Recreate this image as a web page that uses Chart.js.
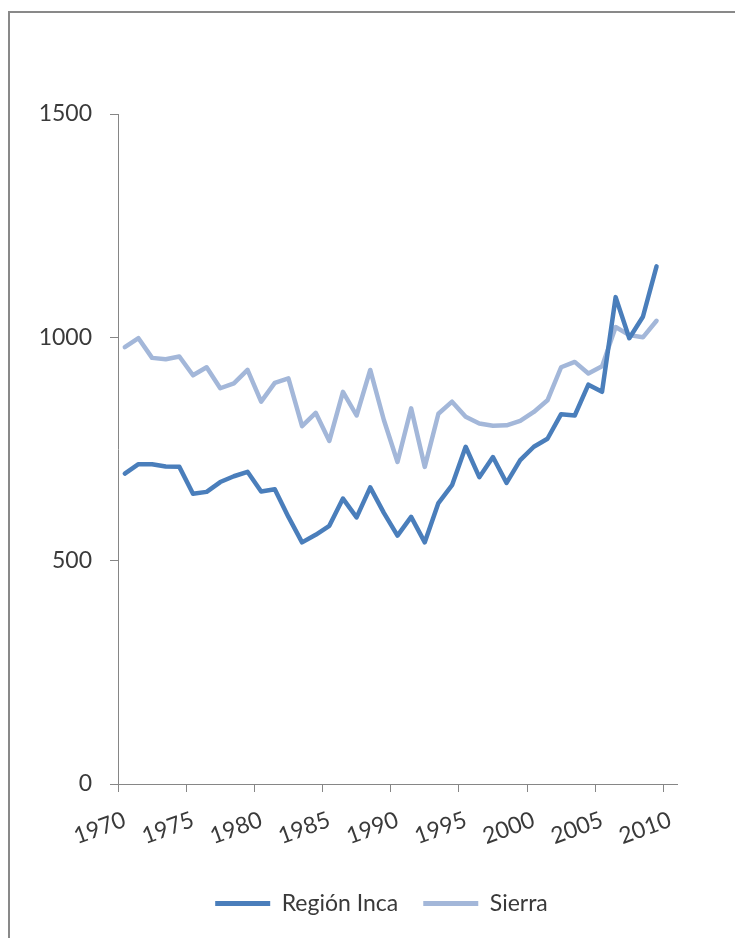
<!DOCTYPE html>
<html>
<head>
<meta charset="utf-8">
<script src="https://cdn.jsdelivr.net/npm/chart.js@4"></script>
<style>
  html, body { margin: 0; padding: 0; background: #fff; overflow: hidden; }
  #frame { position: absolute; left: 8px; top: 11px; width: 900px; height: 1100px; border: 2px solid #898989; }
  #chart { position: absolute; left: 0; top: 0; }
</style>
</head>
<body>
<div id="frame"></div>
<canvas id="chart" width="735" height="938"></canvas>
<script>
// years on the category axis (2010 has no value)
const years = [];
for (let y = 1970; y <= 2010; y++) years.push(y);

const regionInca = [695, 716, 716, 711, 710, 650, 654, 676, 689, 699,
                    655, 660, 598, 541, 558, 578, 639, 597, 664, 607,
                    556, 598, 541, 629, 669, 755, 687, 732, 674, 725,
                    755, 773, 828, 825, 894, 878, 1090, 998, 1046, 1159];
const sierra = [978, 998, 954, 951, 957, 915, 933, 886, 897, 927,
                856, 898, 908, 801, 831, 768, 878, 825, 927, 815,
                721, 841, 710, 829, 856, 822, 807, 802, 803, 813,
                833, 859, 933, 945, 919, 935, 1023, 1005, 1000, 1037];
const yTicks = [0, 500, 1000, 1500];

const axisGray = "#868686";
const textColor = "#3a3a3a";
const font = { family: "Lato", size: 23 };

// the legend sits a bit right of the canvas centre in the original
const legendShift = {
    id: "legendShift",
    afterLayout(chart) {
        chart.legend.left += 43;
        chart.legend.right += 43;
    }
};

const ctx = document.getElementById("chart");
new Chart(ctx, {
    type: "line",
    data: {
        labels: years,
        datasets: [{
            label: "Región Inca",
            data: regionInca,
            borderColor: "#4a7ebb",
            backgroundColor: "#4a7ebb",
            borderWidth: 4.5
        }, {
            label: "Sierra",
            data: sierra,
            borderColor: "#a3b7d9",
            backgroundColor: "#a3b7d9",
            borderWidth: 4.5
        }]
    },
    plugins: [legendShift],
    options: {
        responsive: false,
        animation: false,
        elements: {
            line: { tension: 0, borderJoinStyle: "round", borderCapStyle: "round" },
            point: { radius: 0 }
        },
        layout: { autoPadding: false, padding: { top: 114, right: 58, left: 0, bottom: 13 } },
        plugins: {
            tooltip: { enabled: false },
            legend: {
                position: "bottom",
                labels: {
                    color: textColor,
                    font: font,
                    boxWidth: 55,
                    boxHeight: 5,
                    padding: 25,
                    generateLabels: (chart) => chart.data.datasets.map((d, i) => ({
                        text: d.label,
                        fillStyle: d.borderColor,
                        strokeStyle: d.borderColor,
                        lineWidth: 0,
                        fontColor: textColor,
                        datasetIndex: i
                    }))
                }
            }
        },
        scales: {
            x: {
                type: "category",
                offset: true,
                grid: {
                    offset: true,
                    drawOnChartArea: false,
                    drawTicks: true,
                    tickLength: 8,
                    tickColor: (c) => (c.index % 5 === 0 ? axisGray : "rgba(0,0,0,0)")
                },
                border: { color: axisGray, width: 1 },
                ticks: {
                    autoSkip: false,
                    minRotation: 20,
                    maxRotation: 20,
                    padding: 14,
                    color: textColor,
                    font: font,
                    callback: (v, i) => (years[i] % 5 === 0 ? String(years[i]) : "")
                },
                afterFit: (s) => { s.height = 83; s.paddingLeft = 0; s.paddingRight = 0; }
            },
            y: {
                min: 0,
                max: 1500,
                afterBuildTicks: (s) => { s.ticks = yTicks.map(v => ({ value: v })); },
                grid: {
                    drawOnChartArea: false,
                    drawTicks: true,
                    tickLength: 8,
                    tickColor: axisGray
                },
                border: { color: axisGray, width: 1 },
                ticks: { padding: 18, color: textColor, font: font, callback: (v) => String(v) },
                afterFit: (s) => { s.width = 118; s.paddingTop = 0; s.paddingBottom = 0; }
            }
        }
    }
});
</script>
</body>
</html>
